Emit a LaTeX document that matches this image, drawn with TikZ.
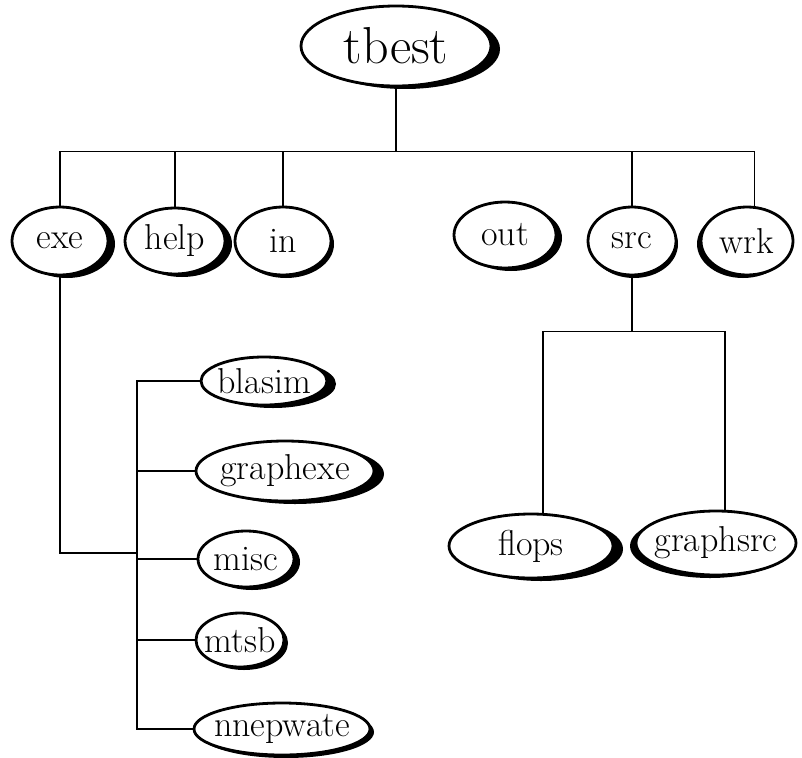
\documentclass[tikz,border=0pt]{standalone}
\usepackage{tikz}
\usetikzlibrary{shapes.geometric, shadows, calc}

\begin{document}
\begin{tikzpicture}[
                x=1pt, y=-1pt,
                folder/.style={ellipse, draw, fill=white, line width=2.8pt,
                    inner sep=-10pt, font=\fontsize{36}{40}\selectfont,
                    general shadow={fill=black, shadow xshift=#1, shadow yshift=-3pt}},
                folder/.default=6pt,
                link/.style={line width=1.8pt}
            ]
                \useasboundingbox (0,0) rectangle (802,757);

                % Root
                \node[folder=9pt, minimum width=190, minimum height=80,
                      font=\fontsize{52}{56}\selectfont] (tbest) at (396,46) {tbest};

                % First level
                \node[folder=7pt, minimum width=96, minimum height=68] (exe) at (60,241) {exe};
                \node[folder=7pt, minimum width=100, minimum height=66] (help) at (175,241) {help};
                \node[folder=3pt, minimum width=96, minimum height=68] (in) at (283,241) {in};
                \node[folder=6pt, minimum width=102, minimum height=66] (out) at (505,235) {out};
                \node[folder=2pt, minimum width=88, minimum height=68] (src) at (632,241) {src};
                \node[folder=-4pt, minimum width=92, minimum height=68] (wrk) at (747,241) {wrk};

                % Under exe
                \node[folder=9pt, minimum width=126, minimum height=48] (blasim) at (264,381) {blasim};
                \node[folder=10pt, minimum width=178, minimum height=60] (graphexe) at (285,471) {graphexe};
                \node[folder=6pt, minimum width=96, minimum height=56] (misc) at (246,559) {misc};
                \node[folder=4pt, minimum width=88, minimum height=54] (mtsb) at (240,640) {mtsb};
                \node[folder=4pt, minimum width=176, minimum height=52] (nnepwate) at (282,729) {nnepwate};

                % Under src
                \node[folder=10pt, minimum width=164, minimum height=64] (flops) at (531,546) {flops};
                \node[folder=-6pt, minimum width=160, minimum height=64] (graphsrc) at (716,543) {graphsrc};

                % Connectors
                \coordinate (bus) at ($(tbest.south)+(0,64)$);
                \coordinate (comb) at (137,553);
                \coordinate (split) at ($(src.south)+(0,55)$);

                \draw[link] (tbest.south) -- (bus);
                \draw[link] (exe.north) |- (bus) -| (wrk.78);
                \foreach \n in {help, in, src}
                    \draw[link] (\n.north) -- (\n.north |- bus);

                \draw[link] (exe.south) |- (comb);
                \draw[link] (blasim.west) -| (comb) |- (nnepwate.west);
                \foreach \n in {graphexe, misc, mtsb}
                    \draw[link] (\n.west) -- (\n.west -| comb);

                \draw[link] (src.south) -- (split);
                \draw[link] (flops.70) |- (split) -| (graphsrc.75);
            \end{tikzpicture}
\end{document}
